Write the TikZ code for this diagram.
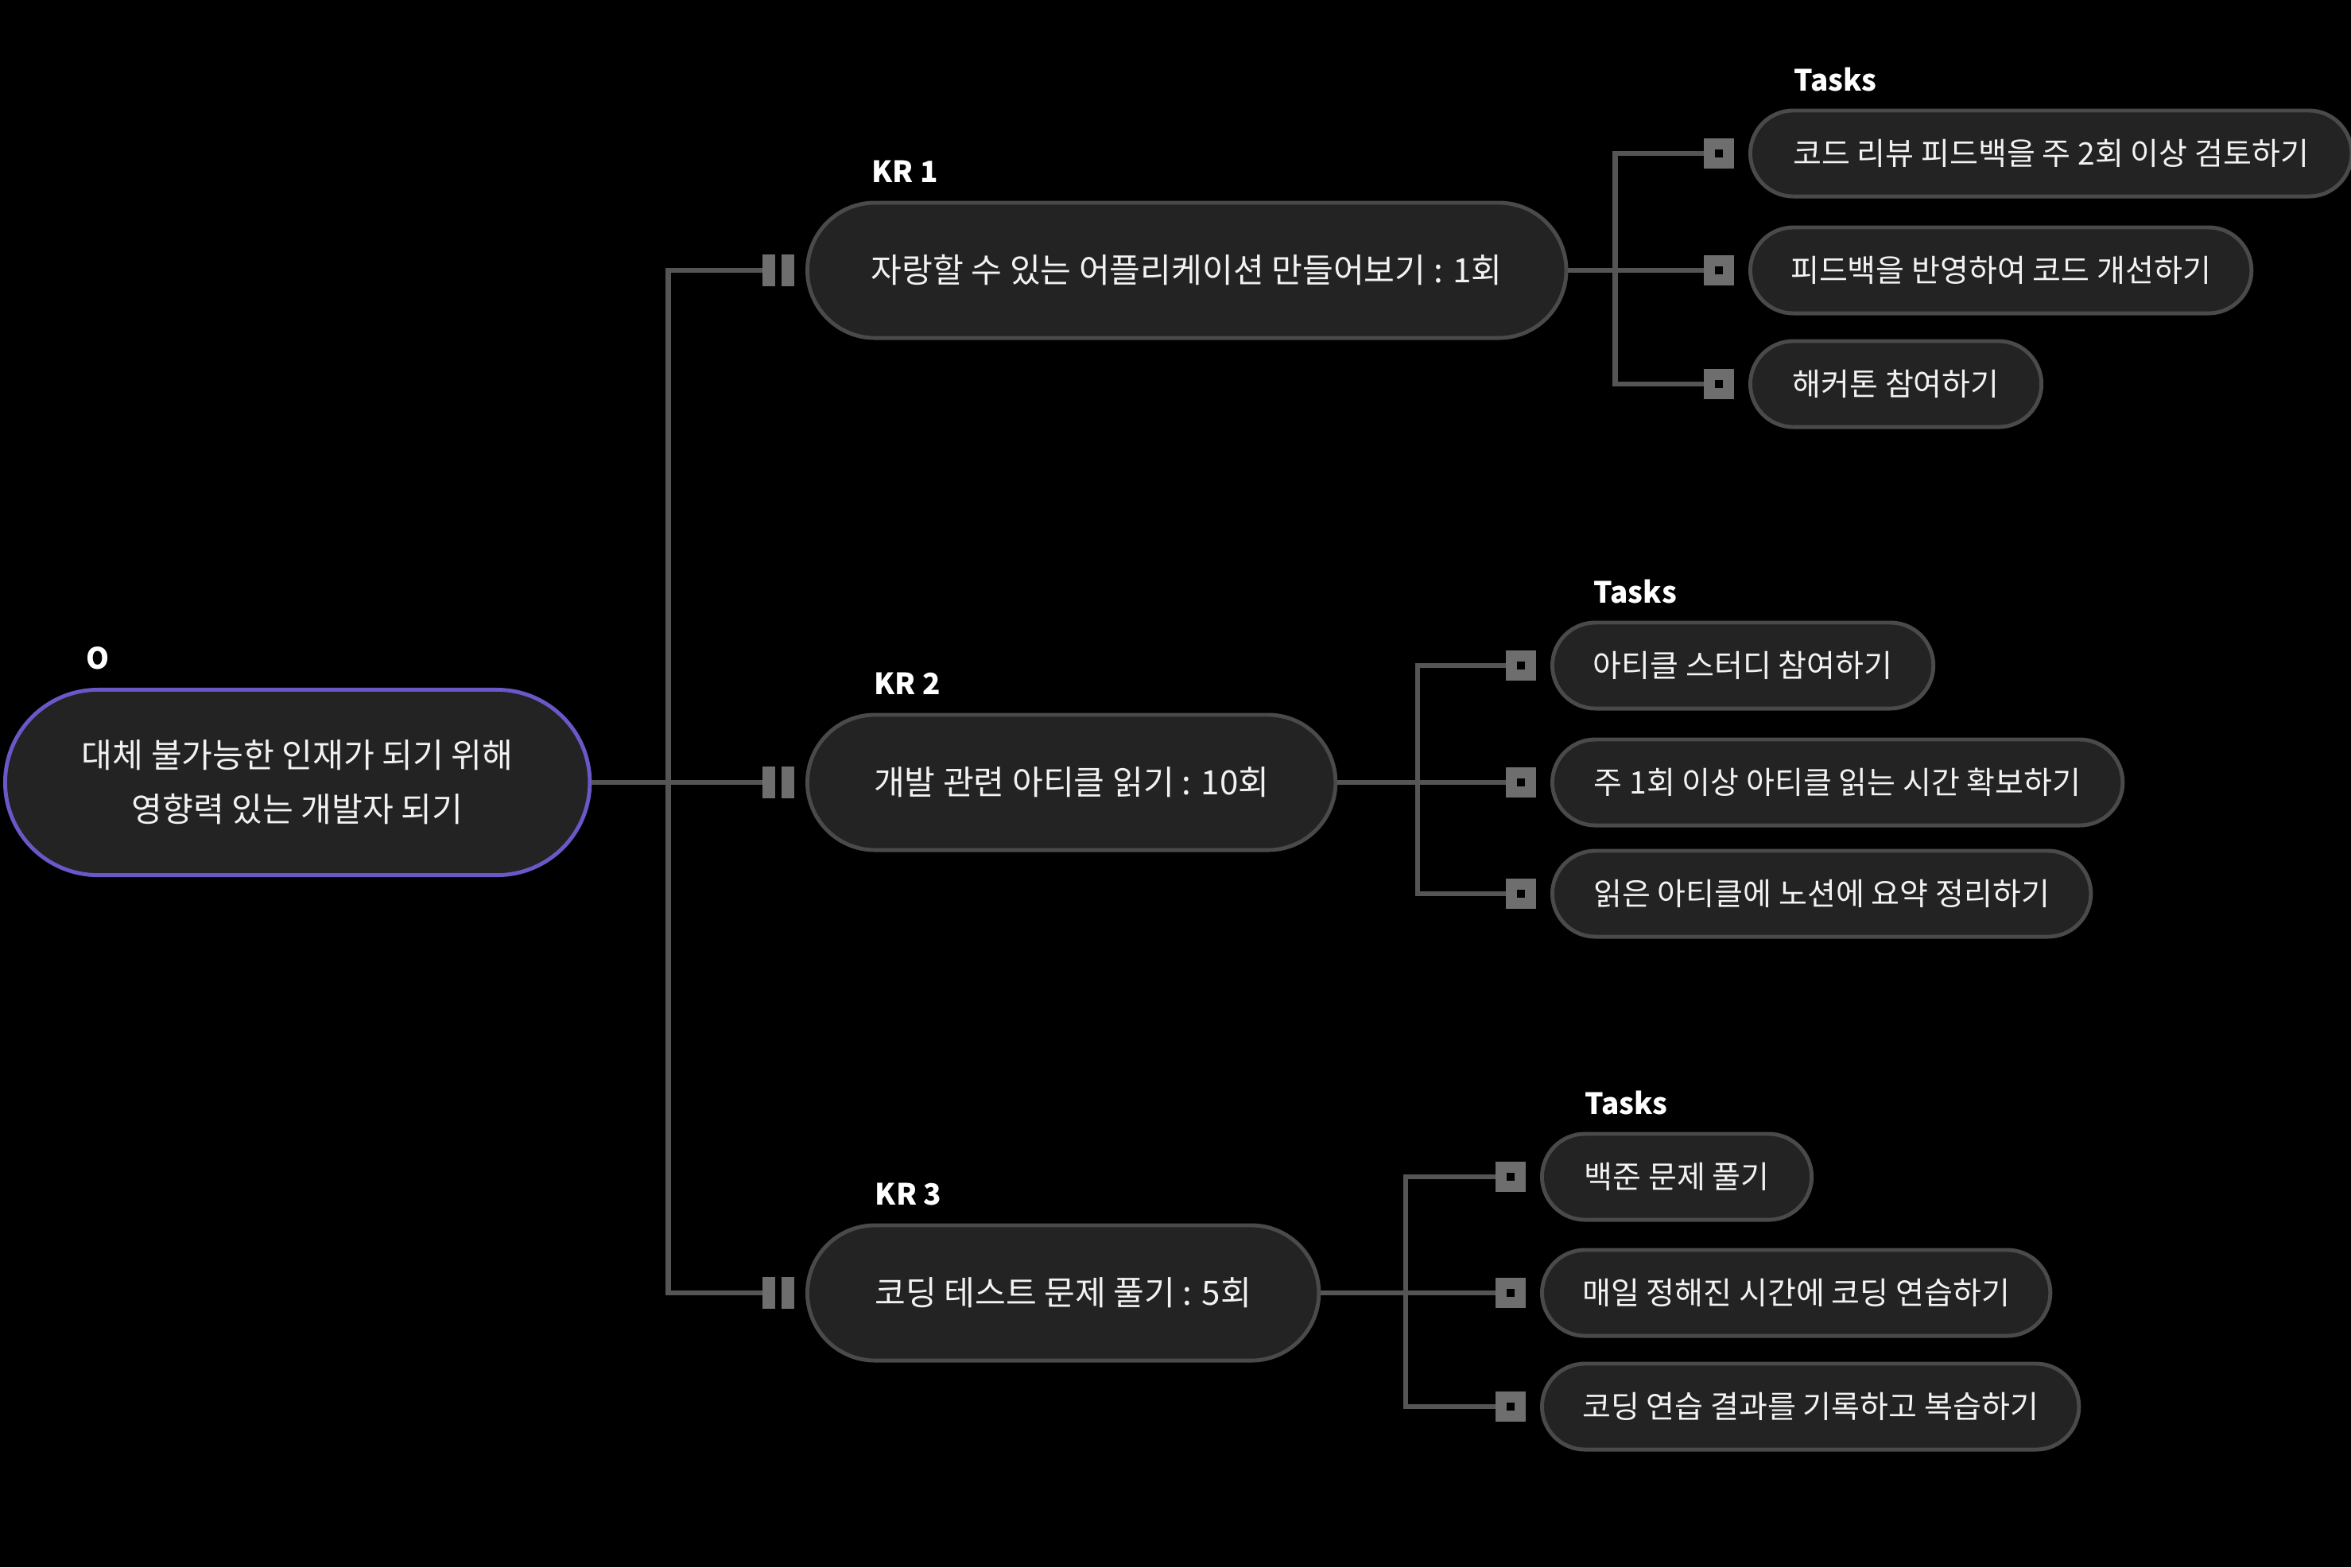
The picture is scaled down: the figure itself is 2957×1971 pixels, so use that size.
\documentclass[tikz,border=0pt]{standalone}
\usepackage{fontspec}
\setmainfont{Noto Sans CJK KR}
\usetikzlibrary{positioning,calc,shapes.misc}
\definecolor{Canvas}{HTML}{000000}
\definecolor{Pill}{HTML}{232323}
\definecolor{Rim}{HTML}{4A4A4A}
\definecolor{Goal}{HTML}{6858C8}
\definecolor{Wire}{HTML}{555555}
\definecolor{Grip}{HTML}{6E6E6E}
\definecolor{Ink}{HTML}{F2F2F2}
\tikzset{pill/.style={rounded rectangle,fill=Pill,draw=Rim,line width=1.4pt,text=Ink,inner sep=0pt,anchor=west},
kr/.style={pill,minimum height=1.7cm,font=\fontsize{12}{14}\selectfont},
task/.style={pill,minimum height=1.08cm,font=\fontsize{11.1}{13}\selectfont},
link/.style={draw=Wire,line width=1.8pt},
tag/.style={text=white,font=\fontsize{10.5}{12}\selectfont\bfseries,inner sep=0pt,anchor=south west},
grip/.style={fill=Grip,minimum width=.4cm,minimum height=.4cm,inner sep=0pt,path picture={\draw[Canvas,line width=.08cm] (path picture bounding box.north) -- (path picture bounding box.south);}},
knob/.style={fill=Grip,minimum size=.38cm,inner sep=0pt,path picture={\fill[Canvas] ([shift={(-.05cm,-.05cm)}]path picture bounding box.center) rectangle ++(.1cm,.1cm);}}}

\begin{document}
\begin{tikzpicture}[x=.01cm,y=-.01cm]
\useasboundingbox (0,0) rectangle (2957,1971);
\fill[Canvas] (0,0) rectangle (2957,1971);
% objective
\node[pill,draw=Goal,minimum width=7.35cm,minimum height=2.33cm,align=center,font=\fontsize{12}{19.3}\selectfont] (root) at (4,984) {대체 불가능한 인재가 되기 위해\\영향력 있는 개발자 되기};
\node[tag,anchor=center] (otag) at (123,828) {O};
% key results
\node[kr,minimum width=9.54cm] (kr1) at (1013,340) {자랑할 수 있는 어플리케이션 만들어보기 : 1회};
\node[kr,minimum width=6.64cm] (kr2) at (1013,984) {개발 관련 아티클 읽기 : 10회};
\node[kr,minimum width=6.43cm] (kr3) at (1013,1626) {코딩 테스트 문제 풀기 : 5회};
\node[grip,left=.13cm of kr1] (g1) {};
\node[grip,left=.13cm of kr2] (g2) {};
\node[grip,left=.13cm of kr3] (g3) {};
\node[tag] (krtag1) at ($(kr1.text |- kr1.north)+(0,-22)$) {KR 1};
\node[tag] (krtag2) at ($(kr2.text |- kr2.north)+(0,-22)$) {KR 2};
\node[tag] (krtag3) at ($(kr3.text |- kr3.north)+(0,-22)$) {KR 3};
% tasks
\node[task,minimum width=7.56cm] (t11) at (2199,193) {코드 리뷰 피드백을 주 2회 이상 검토하기};
\node[task,minimum width=6.30cm] (t12) at (2199,340) {피드백을 반영하여 코드 개선하기};
\node[task,minimum width=3.66cm] (t13) at (2199,483) {해커톤 참여하기};
\node[task,minimum width=4.79cm] (t21) at (1950,837) {아티클 스터디 참여하기};
\node[task,minimum width=7.17cm] (t22) at (1950,984) {주 1회 이상 아티클 읽는 시간 확보하기};
\node[task,minimum width=6.77cm] (t23) at (1950,1124) {읽은 아티클에 노션에 요약 정리하기};
\node[task,minimum width=3.39cm] (t31) at (1937,1480) {백준 문제 풀기};
\node[task,minimum width=6.39cm] (t32) at (1937,1626) {매일 정해진 시간에 코딩 연습하기};
\node[task,minimum width=6.75cm] (t33) at (1937,1769) {코딩 연습 결과를 기록하고 복습하기};
\node[knob,left=.17cm of t11] (k11) {};\node[knob,left=.17cm of t12] (k12) {};\node[knob,left=.17cm of t13] (k13) {};
\node[knob,left=.17cm of t21] (k21) {};\node[knob,left=.17cm of t22] (k22) {};\node[knob,left=.17cm of t23] (k23) {};
\node[knob,left=.17cm of t31] (k31) {};\node[knob,left=.17cm of t32] (k32) {};\node[knob,left=.17cm of t33] (k33) {};
\node[tag] (ttag1) at ($(t11.text |- t11.north)+(0,-21)$) {Tasks};
\node[tag] (ttag2) at ($(t21.text |- t21.north)+(0,-21)$) {Tasks};
\node[tag] (ttag3) at ($(t31.text |- t31.north)+(0,-21)$) {Tasks};
% links
\draw[link] (root.east) -- (g2.west);
\draw[link] (root.east) -- ++(96,0) |- (g1.west);
\draw[link] (root.east) -- ++(96,0) |- (g3.west);
\draw[link] (kr1.east) -- (k12.west);
\draw[link] (kr1.east) -- ++(59,0) |- (k11.west);
\draw[link] (kr1.east) -- ++(59,0) |- (k13.west);
\draw[link] (kr2.east) -- (k22.west);
\draw[link] (kr2.east) -- ++(101,0) |- (k21.west);
\draw[link] (kr2.east) -- ++(101,0) |- (k23.west);
\draw[link] (kr3.east) -- (k32.west);
\draw[link] (kr3.east) -- ++(107,0) |- (k31.west);
\draw[link] (kr3.east) -- ++(107,0) |- (k33.west);
\end{tikzpicture}
\end{document}
